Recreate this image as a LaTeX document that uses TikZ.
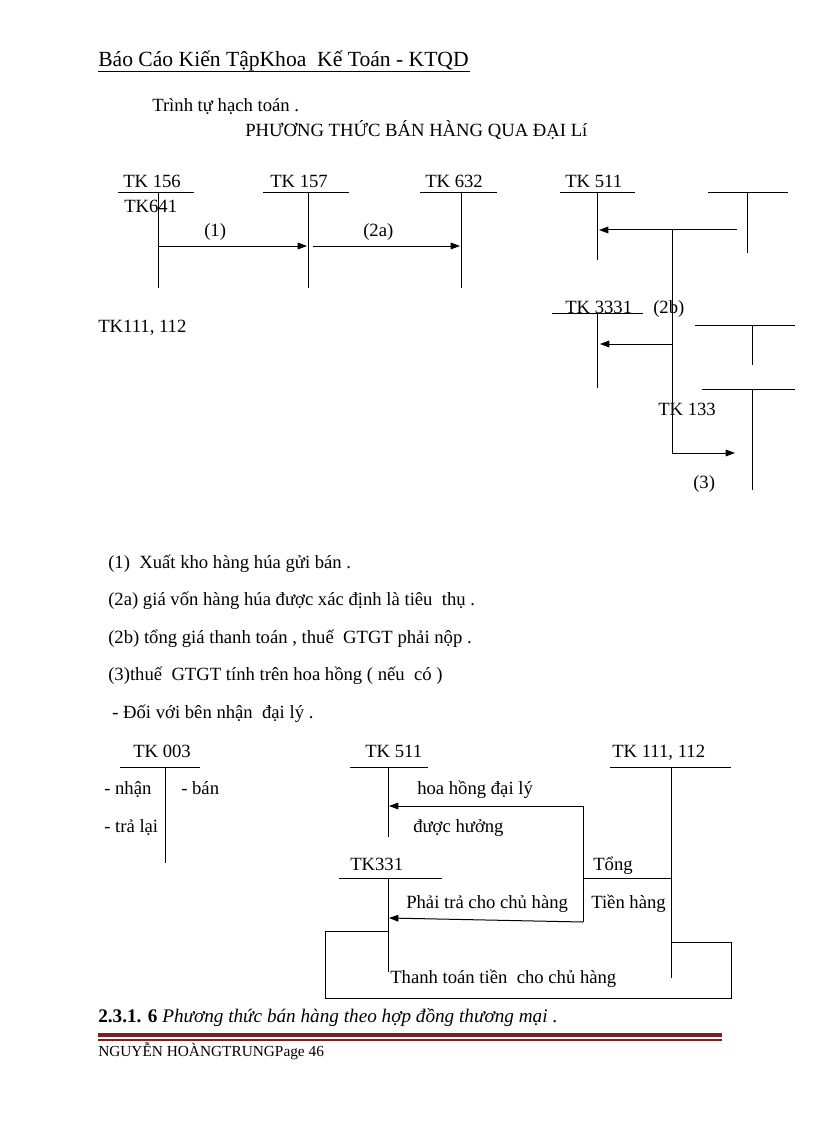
\documentclass[tikz,border=0pt]{standalone}
\usepackage{fontspec}
\setmainfont{Liberation Serif}
\usetikzlibrary{arrows.meta}
\definecolor{footred}{RGB}{125,30,35}
\begin{document}
\begin{tikzpicture}[x=0.75pt,y=-0.75pt,
  txt/.style={anchor=base west,inner sep=0pt,font=\fontsize{14}{16}\selectfont},
  hdrtxt/.style={anchor=base west,inner sep=0pt,font=\fontsize{16.2}{19}\selectfont},
  foottxt/.style={anchor=base west,inner sep=0pt,font=\fontsize{11.5}{13}\selectfont},
  ln/.style={line width=0.75pt},
  arr/.style={ln,-{Triangle[length=7pt,width=5pt]}},
]
\useasboundingbox[fill=white] (0,0) rectangle (816,1123);

% header
\node[hdrtxt] (hdr) at (98,67) {Báo Cáo Kiến TậpKhoa\ \ Kế Toán - KTQD};
\coordinate (hdrL) at (98,71);
\coordinate (hdrR) at (470,71);
\draw[line width=0.6pt] (hdrL) -- (hdrR);

\node[txt] (seq) at (152,112) {Trình tự hạch toán .};
\node[txt] (title) at (245,137) {PHƯƠNG THỨC BÁN HÀNG QUA ĐẠI Lí};

% ---------- top diagram ----------
\node[txt] (tk156) at (123,188) {TK 156};
\node[txt] (tk641) at (124,213) {TK641};
\node[txt] (tk157) at (270,188) {TK 157};
\node[txt] (tk632) at (425,188) {TK 632};
\node[txt] (tk511a) at (565,188) {TK 511};
\node[txt] (tk111a) at (98,332) {TK111, 112};

% T accounts
\coordinate (v156t) at (158,193); \coordinate (v156b) at (158,288);
\draw[ln] (118,193) -- (194,193); \draw[ln] (v156t) -- (v156b);
\coordinate (v157t) at (308,193); \coordinate (v157b) at (308,288);
\draw[ln] (263,193) -- (349,193); \draw[ln] (v157t) -- (v157b);
\coordinate (v632t) at (461,193); \coordinate (v632b) at (461,288);
\draw[ln] (420,193) -- (497,193); \draw[ln] (v632t) -- (v632b);
\coordinate (v511t) at (597,193); \coordinate (v511b) at (597,260);
\draw[ln] (560,193) -- (635,193); \draw[ln] (v511t) -- (v511b);
\coordinate (vTRt) at (747,193); \coordinate (vTRb) at (747,253);
\draw[ln] (708,193) -- (788,193); \draw[ln] (vTRt) -- (vTRb);

% arrows (1), (2a)
\coordinate (a1s) at (158,246); \coordinate (a1e) at (307,246);
\draw[arr] (a1s) -- (a1e);
\node[txt] (l1) at (204,237) {(1)};
\coordinate (a2s) at (313,246); \coordinate (a2e) at (460,246);
\draw[arr] (a2s) -- (a2e);
\node[txt] (l2a) at (363,237) {(2a)};

% 3331
\node[txt] (tk3331) at (565,313) {TK 3331};
\draw[ln] (552,313) -- (643,313);
\coordinate (v3331t) at (597,313); \coordinate (v3331b) at (597,388);
\draw[ln] (v3331t) -- (v3331b);
\node[txt] (l2b) at (653,313) {(2b)};

% right Ts
\draw[ln] (695,325) -- (795,325);
\coordinate (vR2t) at (752,325); \coordinate (vR2b) at (752,365);
\draw[ln] (vR2t) -- (vR2b);
\draw[ln] (702,389) -- (795,389);
\coordinate (vR3t) at (752,389); \coordinate (vR3b) at (752,490);
\draw[ln] (vR3t) -- (vR3b);
\node[txt] (tk133) at (658,415) {TK 133};
\node[txt] (l3) at (693,488) {(3)};

% 2b / 3 flows
\coordinate (fs) at (737,230);
\coordinate (fj) at (672,230);
\coordinate (fm) at (672,344);
\coordinate (fb) at (672,453);
\draw[arr] (fs) -- (599,230);
\draw[ln] (fj) -- (fb);
\draw[arr] (fm) -- (600,344);
\draw[arr] (fb) -- (735,453);

% ---------- legend ----------
\node[txt] (lg1) at (108,568) {(1)\ \ Xuất kho hàng húa gửi bán .};
\node[txt] (lg2) at (108,605) {(2a) giá vốn hàng húa được xác định là tiêu\ \ thụ .};
\node[txt] (lg3) at (108,643) {(2b) tổng giá thanh toán , thuế\ \ GTGT phải nộp .};
\node[txt] (lg4) at (108,680) {(3)thuế\ \ GTGT tính trên hoa hồng ( nếu\ \ có )};
\node[txt] (lg5) at (112,718) {- Đối với bên nhận\ \ đại lý .};

% ---------- bottom diagram ----------
\node[txt] (tk003) at (133,757) {TK 003};
\draw[ln] (120,767) -- (200,767);
\coordinate (v003t) at (165,767); \coordinate (v003b) at (165,863);
\draw[ln] (v003t) -- (v003b);
\node[txt] (nhan) at (104,794) {- nhận};
\node[txt] (ban) at (181,794) {- bán};
\node[txt] (tralai) at (104,832) {- trả lại};

\node[txt] (tk511b) at (365,757) {TK 511};
\draw[ln] (350,767) -- (428,767);
\coordinate (v511bt) at (388,767); \coordinate (v511bb) at (388,837);
\draw[ln] (v511bt) -- (v511bb);
\node[txt] (hoahong) at (417,794) {hoa hồng đại lý};
\node[txt] (duoc) at (413,832) {được hưởng};

\node[txt] (tk331) at (350,870) {TK331};
\draw[ln] (339,878) -- (442,878);
\coordinate (v331t) at (388,878); \coordinate (v331b) at (388,972);
\draw[ln] (v331t) -- (v331b);
\node[txt] (phaitra) at (406,908) {Phải trả cho chủ hàng};

\node[txt] (tk111b) at (612,757) {TK 111, 112};
\draw[ln] (610,767) -- (731,767);
\coordinate (v111t) at (671,767); \coordinate (v111b) at (671,978);
\draw[ln] (v111t) -- (v111b);
\node[txt] (tong) at (593,870) {Tổng};
\node[txt] (tienhang) at (591,908) {Tiền hàng};

\coordinate (bj1) at (583,806);
\coordinate (bj2) at (583,878);
\coordinate (bj3) at (583,922);
\draw[arr] (bj1) -- (389,806);
\draw[ln] (bj1) -- (bj3);
\draw[ln] (bj2) -- (v111t |- bj2);
\draw[arr] (bj3) -- (389,918);

\coordinate (lp1) at (388,931);
\coordinate (lp2) at (325,931);
\coordinate (lp3) at (325,998);
\coordinate (lp4) at (731,998);
\coordinate (lp5) at (731,942);
\coordinate (lp6) at (671,942);
\draw[ln] (lp1) -- (lp2) -- (lp3) -- (lp4) -- (lp5) -- (lp6);
\node[txt] (thanhtoan) at (390,983) {Thanh toán tiền\ \ cho chủ hàng};

% ---------- footer ----------
\node[txt,font=\fontsize{14.4}{17}\selectfont] (sec) at (98,1022) {\textbf{2.3.1. 6} \textit{Phương thức bán hàng theo hợp đồng thương mại} .};
\draw[footred,line width=3pt] (98,1035) -- (722,1035);
\draw[footred,line width=0.8pt] (98,1040) -- (722,1040);
\node[foottxt] (foot) at (98,1056) {NGUYỄN HOÀNGTRUNGPage 46};
\end{tikzpicture}
\end{document}
